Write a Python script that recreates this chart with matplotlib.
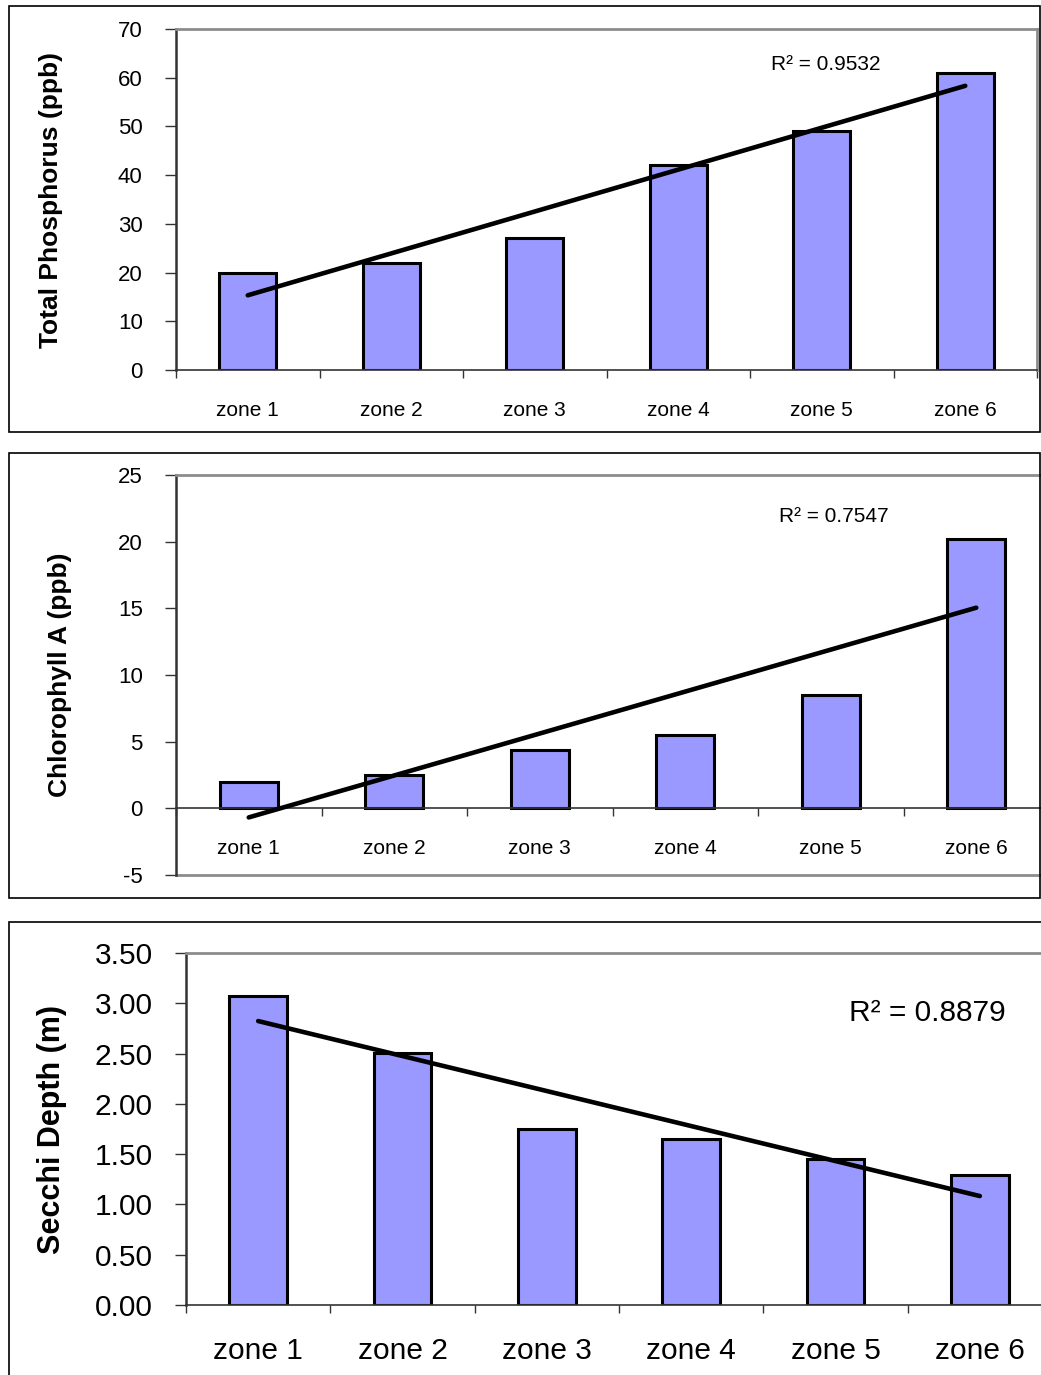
import numpy as np
import matplotlib
matplotlib.use("Agg")
import matplotlib.pyplot as plt
from matplotlib.patches import Rectangle

plt.rcParams['font.family'] = ['Liberation Sans', 'DejaVu Sans']

zones = ["zone 1", "zone 2", "zone 3", "zone 4", "zone 5", "zone 6"]
phosphorus = [20, 22, 27, 42, 49, 61]
chlorophyll = [2.0, 2.5, 4.4, 5.5, 8.5, 20.2]
secchi = [3.07, 2.51, 1.75, 1.65, 1.45, 1.29]
r2_labels = ["0.9532", "0.7547", "0.8879"]

W, H = 1041, 1375
BAR = "#9999ff"
GREY = "#8c8c8c"
DARK = "#333333"


def px_axes(fig, left, top, right, bottom):
    """ axes from pixel box (origin at top-left) """
    return fig.add_axes([left / W, 1 - bottom / H, (right - left) / W, (bottom - top) / H])


def outer_box(fig, left, top, right, bottom):
    r = Rectangle((left / W, 1 - bottom / H), (right - left) / W, (bottom - top) / H,
                  transform=fig.transFigure, fill=False, edgecolor="black", lw=1.2)
    fig.add_artist(r)


def panel(ax, vals, ylim, yticks, yfmt, ylabel, r2, r2pos, fs_tick, fs_x, fs_lab, fs_r2, xpad, zero_axis=False):
    x = np.arange(len(vals))
    ax.bar(x, vals, width=0.4, color=BAR, edgecolor="black", linewidth=2.2, zorder=2)
    k, b = np.polyfit(x + 1, vals, 1)   # excel style linear trendline
    ax.plot([x[0], x[-1]], [k * 1 + b, k * 6 + b], color="black", lw=3.3,
            solid_capstyle="round", zorder=3, clip_on=False)

    ax.set_xlim(-0.5, len(vals) - 0.5)
    ax.set_ylim(*ylim)
    ax.set_yticks(yticks)
    ax.set_yticklabels([yfmt.format(t) for t in yticks])
    ax.set_xticks(np.arange(-0.5, len(vals), 1))
    ax.set_xticklabels([])
    ax.set_xticks(x, minor=True)
    ax.set_xticklabels(zones, minor=True)

    ax.tick_params(axis="y", direction="out", length=8, width=1, color=DARK, pad=16, labelsize=fs_tick)
    ax.tick_params(axis="x", which="major", direction="out", length=6, width=1, color=DARK)
    ax.tick_params(axis="x", which="minor", length=0, pad=xpad, labelsize=fs_x)

    for s in ("top", "right"):
        ax.spines[s].set_color(GREY)
        ax.spines[s].set_linewidth(2)
    ax.spines["left"].set_color(DARK)
    ax.spines["left"].set_linewidth(1.8)
    ax.spines["bottom"].set_color(DARK)
    ax.spines["bottom"].set_linewidth(1.2)
    if zero_axis:
        ax.spines["bottom"].set_position(("data", 0))
        ax.plot([0, 1], [0, 0], transform=ax.transAxes, color=GREY, lw=2, clip_on=False)

    ax.set_ylabel(ylabel, fontsize=fs_lab, fontweight="bold")
    ax.text(r2pos[0], r2pos[1], "R² = " + r2, transform=ax.transAxes, ha="center", va="center", fontsize=fs_r2)


fig = plt.figure(figsize=(W / 100, H / 100), dpi=100)

outer_box(fig, 9, 6, 1040, 432)
outer_box(fig, 9, 453, 1040, 898)
outer_box(fig, 9, 922, 1100, 1400)

ax1 = px_axes(fig, 176, 29, 1037, 370)
panel(ax1, phosphorus, (0, 70), range(0, 71, 10), "{:d}", "Total Phosphorus (ppb)",
      r2_labels[0], (0.755, 0.897), 16, 15, 19, 15, 22)
ax1.yaxis.set_label_coords((63 - 176) / 861, 0.5)

ax2 = px_axes(fig, 176, 475, 1049, 875)
panel(ax2, chlorophyll, (-5, 25), range(-5, 26, 5), "{:d}", "Chlorophyll A (ppb)",
      r2_labels[1], (0.753, 0.895), 16, 15, 19, 15, 22, zero_axis=True)
ax2.yaxis.set_label_coords((72 - 176) / 873, 0.5)

ax3 = px_axes(fig, 186, 953, 1052, 1305)
panel(ax3, secchi, (0, 3.5), np.arange(0, 3.51, 0.5), "{:.2f}", "Secchi Depth (m)",
      r2_labels[2], (0.856, 0.83), 21.5, 21.5, 22, 21.5, 23)
ax3.yaxis.set_label_coords((67 - 186) / 866, 0.5)

fig.savefig("out.png", dpi=100)
